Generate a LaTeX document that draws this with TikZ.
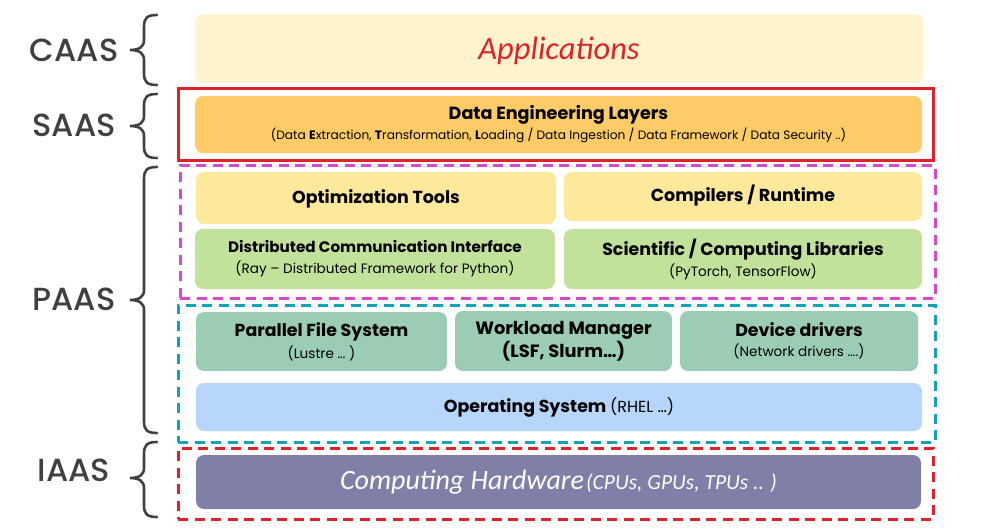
\documentclass[tikz,border=0pt]{standalone}
\usepackage{fontspec}
\setmainfont{Poppins}
\newfontfamily\carl{Carlito}
\newfontfamily\lblfont{Poppins Medium}
\definecolor{appfill}{HTML}{FFF3CE}
\definecolor{appred}{HTML}{E02228}
\definecolor{defill}{HTML}{FECC66}
\definecolor{frred}{HTML}{E02228}
\definecolor{frmag}{HTML}{D946D0}
\definecolor{frteal}{HTML}{0BA4B8}
\definecolor{yelfill}{HTML}{FDE99B}
\definecolor{grnfill}{HTML}{C2E29B}
\definecolor{tealfill}{HTML}{9ACDB4}
\definecolor{osfill}{HTML}{B6D6FB}
\definecolor{hwfill}{HTML}{7F7FA8}
\definecolor{lblgray}{HTML}{404040}
\newcommand\mybrace[3]{%
  \draw[bracestyle] (157,#1) .. controls (147,#1) and (144,#1+3) .. (144,#1+12)
    -- (144,#2-10) .. controls (144,#2-3) and (139,#2) .. (130,#2)
    .. controls (139,#2) and (144,#2+3) .. (144,#2+10)
    -- (144,#3-12) .. controls (144,#3-3) and (147,#3) .. (157,#3);}
\newcommand\ttlsize{\fontsize{17.4}{20}\selectfont\bfseries}
\newcommand\subsize{\fontsize{13.6}{16}\selectfont}
\begin{document}
\begin{tikzpicture}[x=1pt,y=-1pt,
  box/.style={rounded corners=8pt, inner sep=0pt, align=center, text=black},
  frame/.style={line width=3pt, inner sep=0pt},
  dashframe/.style={frame, dash pattern=on 10pt off 6.5pt},
  lbl/.style={text=lblgray, font=\lblfont\fontsize{32}{36}\selectfont},
  bracestyle/.style={draw=lblgray, line width=2.6pt, line cap=round},
  skip/.style={font=\fontsize{12}{#1}\selectfont}]
\useasboundingbox (0,0) rectangle (984,532);
% frames
\node[frame, draw=frred, minimum width=755, minimum height=71] (saasfr) at (555.5,124.5) {};
\node[dashframe, draw=frmag, minimum width=755, minimum height=133] (paasfr) at (557.5,231.5) {};
\node[dashframe, draw=frteal, minimum width=757, minimum height=137] (tealfr) at (556.5,373.5) {};
\node[dashframe, draw=frred, minimum width=755, minimum height=71] (iaasfr) at (555.5,483.5) {};
% boxes
\node[box, fill=appfill, minimum width=728, minimum height=69, text height=27] (app) at (559,48.5)
  {\carl\itshape\fontsize{32.5}{36}\selectfont\textcolor{appred}{Applications}};
\node[box, skip=20, fill=defill, minimum width=727, minimum height=57] (de) at (558.5,124.5)
  {{\fontsize{17.6}{20}\selectfont\bfseries Data Engineering Layers}\\
   {\fontsize{12.2}{14}\selectfont (Data \textbf{E}xtraction, \textbf{T}ransformation, \textbf{L}oading / Data Ingestion / Data Framework / Data Security ..)}};
\node[box, fill=yelfill, minimum width=360, minimum height=52, text height=15] (opt) at (376,198)
  {\ttlsize Optimization Tools};
\node[box, fill=yelfill, minimum width=358, minimum height=49, text height=15] (comp) at (743,196.5)
  {\ttlsize Compilers / Runtime};
\node[box, skip=21, fill=grnfill, minimum width=360, minimum height=60] (dist) at (375,259)
  {{\fontsize{15.2}{18}\selectfont\bfseries Distributed Communication Interface}\\
   {\subsize (Ray -- Distributed Framework for Python)}};
\node[box, skip=21, fill=grnfill, minimum width=358, minimum height=60] (sci) at (743,259)
  {{\ttlsize Scientific / Computing Libraries}\\
   {\subsize (PyTorch, TensorFlow)}};
\node[box, skip=22, fill=tealfill, minimum width=251, minimum height=59] (pfs) at (321.5,341.5)
  {{\ttlsize Parallel File System}\\
   {\subsize (Lustre \dots\ )}};
\node[box, skip=23, fill=tealfill, minimum width=217, minimum height=60] (wlm) at (563.5,341)
  {{\fontsize{17.8}{20}\selectfont\bfseries Workload Manager}\\
   {\fontsize{17.8}{20}\selectfont\bfseries (LSF, Slurm\dots)}};
\node[box, skip=20, fill=tealfill, minimum width=238, minimum height=60] (dev) at (799,341)
  {{\ttlsize Device drivers}\\
   {\subsize (Network drivers \dots.)}};
\node[box, fill=osfill, minimum width=726, minimum height=48, text height=15] (os) at (559,407)
  {\ttlsize Operating System {\mdseries\fontsize{16}{18}\selectfont(RHEL \dots)}};
\node[box, fill=hwfill, minimum width=725, minimum height=54] (hw) at (558.5,482)
  {\carl\itshape\color{white}{\fontsize{28}{30}\selectfont Computing Hardware} {\fontsize{21.5}{24}\selectfont(CPUs, GPUs, TPUs .. )}};
% labels
\node[lbl] (caas) at (74,50) {CAAS};
\node[lbl] (saas) at (74,125) {SAAS};
\node[lbl] (paas) at (74,299) {PAAS};
\node[lbl] (iaas) at (74,470) {IAAS};
% braces
\mybrace{15}{50}{85}
\mybrace{94}{126}{158}
\mybrace{167}{300}{433}
\mybrace{442}{478}{517}
\end{tikzpicture}
\end{document}
